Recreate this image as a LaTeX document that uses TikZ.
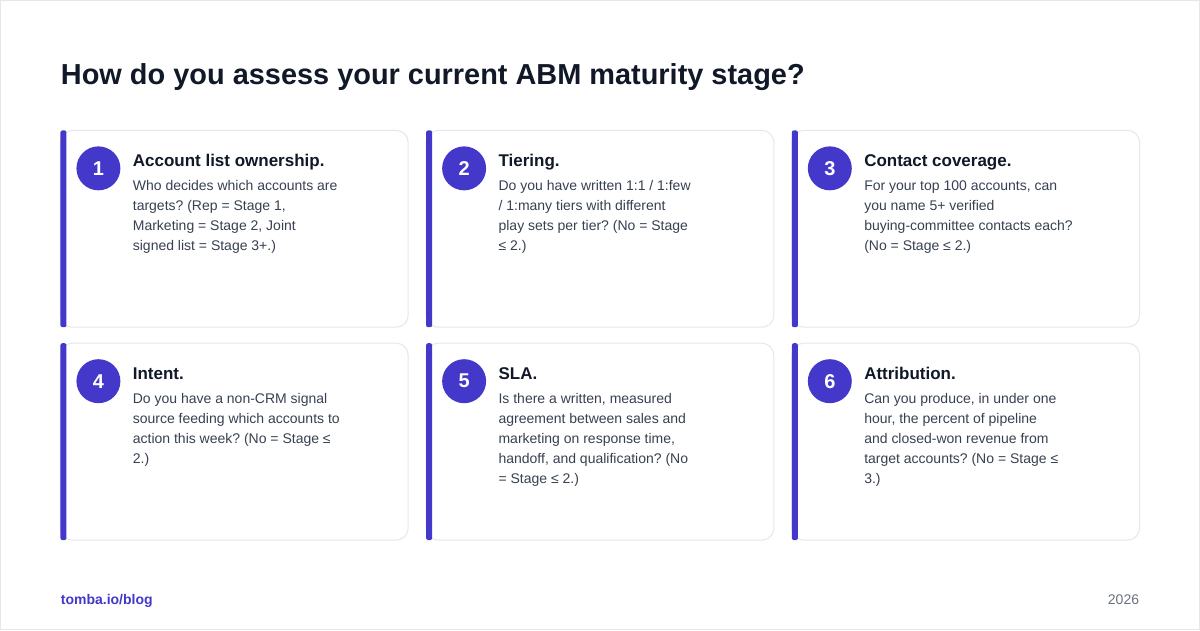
\documentclass[tikz,border=0pt]{standalone}
\usepackage{fontspec}
\setmainfont{Liberation Sans}
\usepackage{xcolor}
\usetikzlibrary{calc}
\definecolor{accent}{HTML}{4338CA}
\definecolor{ink}{HTML}{111827}
\definecolor{body}{HTML}{374151}
\definecolor{edge}{HTML}{E5E7EB}
\definecolor{muted}{HTML}{6B7280}
\frenchspacing

\begin{document}
\begin{tikzpicture}[x=0.75pt,y=-0.75pt,line width=0.75pt,
    card/.style={draw=edge,fill=white,rounded corners=9pt},
    badge/.style={circle,fill=accent,text=white,minimum size=33pt,inner sep=0pt,font=\fontsize{15}{15}\selectfont\bfseries},
    cardtitle/.style={anchor=base west,inner sep=0pt,text=ink,font=\fontsize{12.75}{15}\selectfont\bfseries},
    cardbody/.style={anchor=north west,inner sep=0pt,align=left,text=body,font=\fontsize{10.5}{15}\selectfont}]
  \useasboundingbox[draw=edge,fill=white] (0,0) rectangle (1200,630);

  \node [anchor=base west,inner sep=0pt,text=ink,font=\fontsize{21.7}{26}\selectfont\bfseries] (head) at (60,84) {How do you assess your current ABM maturity stage?};

  \foreach \cx/\cy/\num/\ttl/\txt in {
      60/130/1/{Account list ownership.}/{Who decides which accounts are\\targets? (Rep = Stage 1,\\Marketing = Stage 2, Joint\\signed list = Stage 3+.)},
      426/130/2/{Tiering.}/{Do you have written 1:1 / 1:few\\/ 1:many tiers with different\\play sets per tier? (No = Stage\\≤ 2.)},
      792/130/3/{Contact coverage.}/{For your top 100 accounts, can\\you name 5+ verified\\buying-committee contacts each?\\(No = Stage ≤ 2.)},
      60/343/4/{Intent.}/{Do you have a non-CRM signal\\source feeding which accounts to\\action this week? (No = Stage ≤\\2.)},
      426/343/5/{SLA.}/{Is there a written, measured\\agreement between sales and\\marketing on response time,\\handoff, and qualification? (No\\= Stage ≤ 2.)},
      792/343/6/{Attribution.}/{Can you produce, in under one\\hour, the percent of pipeline\\and closed-won revenue from\\target accounts? (No = Stage ≤\\3.)}} {
    \draw [card] (\cx,\cy) rectangle ++(348,197);
    \fill [accent,rounded corners=1.5pt] (\cx,\cy) rectangle ++(6,197);
    \node [badge] (n\num) at ($(\cx,\cy)+(38,38)$) {\num};
    \node [cardtitle] (t\num) at ($(\cx,\cy)+(72,36)$) {\ttl};
    \node [cardbody] (b\num) at ($(\cx,\cy)+(72,50)$) {\txt};
  }

  \node [anchor=base west,inner sep=0pt,text=accent,font=\fontsize{10.5}{12}\selectfont\bfseries] (blog) at (60,604) {tomba.io/blog};
  \node [anchor=base east,inner sep=0pt,text=muted,font=\fontsize{10.5}{12}\selectfont] (year) at (1140,604) {2026};
\end{tikzpicture}
\end{document}
